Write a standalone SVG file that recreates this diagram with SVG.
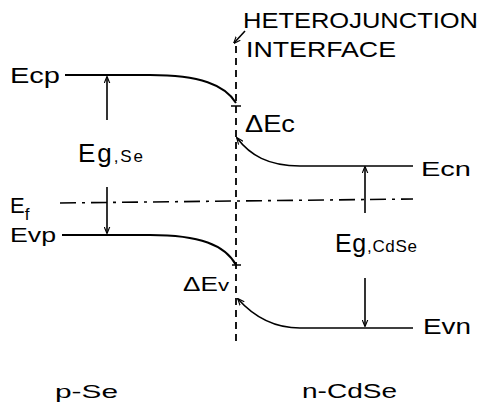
<svg xmlns="http://www.w3.org/2000/svg" width="483" height="409" viewBox="0 0 483 409">
<defs>
<marker id="ah" viewBox="0 0 10 10" refX="9" refY="5" markerWidth="7" markerHeight="7" orient="auto" markerUnits="userSpaceOnUse">
<path d="M0,1 L10,5 L0,9" fill="none" stroke="#000" stroke-width="1.6"/>
</marker>
</defs>
<style>
text{font-family:"Liberation Sans","Arial",sans-serif;fill:#000}
.lbl{font-size:22px}
.sub{font-size:17px}
.band{fill:none;stroke:#000;stroke-width:2}
.arr{fill:none;stroke:#000;stroke-width:1.6;marker-end:url(#ah)}
.tick{stroke:#000;stroke-width:1.5}
</style>
<rect width="483" height="409" fill="#fff"/>
<g id="connectors">
<line x1="236" y1="46" x2="236" y2="343" stroke="#000" stroke-width="1.8" stroke-dasharray="7,5"/>
<line x1="60" y1="203" x2="413" y2="199" stroke="#000" stroke-width="1.6" stroke-dasharray="16,6,3,6"/>
<path class="arr" d="M245,31 L234,43"/>
<line class="arr" x1="107" y1="120" x2="107" y2="77"/>
<line class="arr" x1="107" y1="187" x2="107" y2="233"/>
<line class="arr" x1="365" y1="213" x2="365" y2="167"/>
<line class="arr" x1="365" y1="278" x2="365" y2="326"/>
</g>
<g id="ecp"><path class="band" d="M65,75 H150 C200,75 225,85 236,103"/><line class="tick" x1="231" y1="106" x2="241" y2="106"/>
<text class="lbl" x="10" y="83" textLength="50" lengthAdjust="spacingAndGlyphs">Ecp</text></g>
<g id="ecn"><path class="band arr" d="M413,166 H300 C268,166 250,155 237,138"/>
<text style="font-size:20px" x="421" y="176" textLength="50" lengthAdjust="spacingAndGlyphs">Ecn</text></g>
<g id="evp"><path class="band" d="M62,235 H150 C200,235 225,245 236,265"/><line class="tick" x1="232" y1="265" x2="241" y2="265"/>
<text style="font-size:21px" x="10" y="242" textLength="46" lengthAdjust="spacingAndGlyphs">Evp</text></g>
<g id="evn"><path class="band arr" d="M413,328 H300 C275,328 255,318 238,299"/>
<text class="lbl" x="423" y="334" textLength="48" lengthAdjust="spacingAndGlyphs">Evn</text></g>
<g id="ef"><text style="font-size:22px" x="10" y="213">E<tspan class="sub" dy="7">f</tspan></text></g>
<g id="interface"><text class="lbl" x="243" y="28" textLength="235" lengthAdjust="spacingAndGlyphs">HETEROJUNCTION</text>
<text class="lbl" x="246" y="57" textLength="150" lengthAdjust="spacingAndGlyphs">INTERFACE</text></g>
<g id="dEc"><text style="font-size:23px" x="245" y="132" textLength="50" lengthAdjust="spacingAndGlyphs">ΔEc</text></g>
<g id="dEv"><text style="font-size:20px" x="183" y="291" textLength="46" lengthAdjust="spacingAndGlyphs">ΔE<tspan class="sub">v</tspan></text></g>
<g id="egse"><text style="font-size:26px" x="78" y="162" textLength="65" lengthAdjust="spacing">Eg<tspan class="sub">,Se</tspan></text></g>
<g id="egcdse"><text style="font-size:25px" x="335" y="252" textLength="82" lengthAdjust="spacing">Eg<tspan class="sub">,CdSe</tspan></text></g>
<g id="pse"><text style="font-size:19px" x="55" y="398" textLength="63" lengthAdjust="spacingAndGlyphs">p-Se</text></g>
<g id="ncdse"><text style="font-size:21px" x="302" y="398" textLength="95" lengthAdjust="spacingAndGlyphs">n-CdSe</text></g>
</svg>
